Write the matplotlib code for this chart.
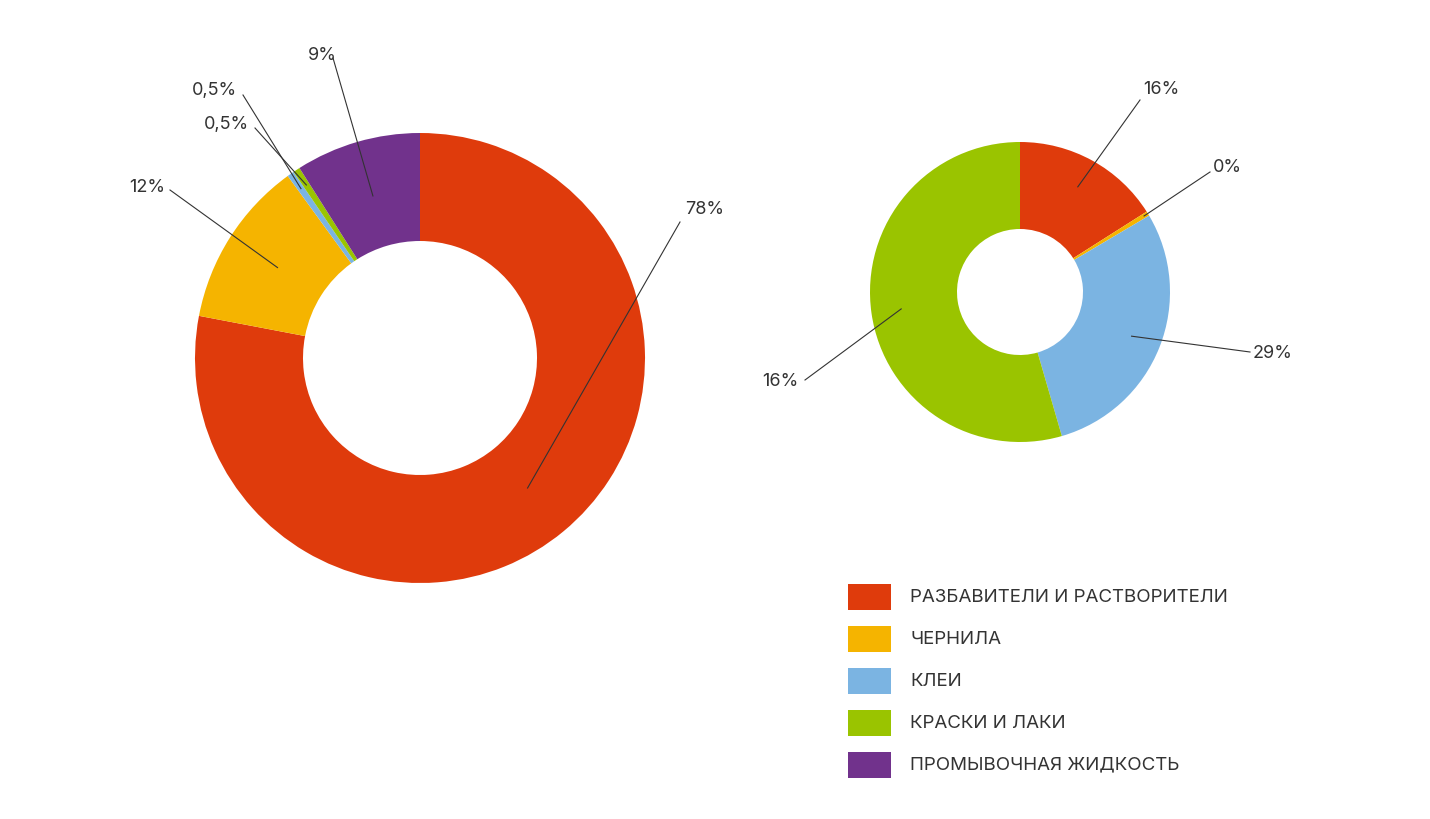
import numpy as np
import matplotlib.pyplot as plt
from matplotlib.patches import Rectangle

categories = ["РАЗБАВИТЕЛИ И РАСТВОРИТЕЛИ", "ЧЕРНИЛА", "КЛЕИ", "КРАСКИ И ЛАКИ", "ПРОМЫВОЧНАЯ ЖИДКОСТЬ"]
colors = ["#DF3B0C", "#F5B400", "#7BB4E2", "#9AC400", "#71328C"]
left_values = [78, 12, 0.5, 0.5, 9]
left_labels = ["78%", "12%", "0,5%", "0,5%", "9%"]
right_values = [16, 0.5, 29, 54.5, 0]
right_labels = ["16%", "0%", "29%", "16%", None]

plt.rcParams['font.family'] = ['Inter', 'DejaVu Sans']
fig = plt.figure(figsize=(14.3, 8.19), dpi=100)
ax = fig.add_axes([0, 0, 1, 1])
ax.set_xlim(0, 1430); ax.set_ylim(0, 819); ax.set_aspect('equal'); ax.axis('off')

def donut(values, labels, center, r, width, txt_pos, rfrac):
    wedges, _ = ax.pie(values, colors=colors, startangle=90, counterclock=False,
                       center=center, radius=r, wedgeprops=dict(width=width, edgecolor='none'))
    ax.set_xlim(0, 1430); ax.set_ylim(0, 819)
    for w, lab, tp, rf in zip(wedges, labels, txt_pos, rfrac):
        if lab is None:
            continue
        a = np.deg2rad((w.theta1 + w.theta2) / 2)
        sx = center[0] + r * rf * np.cos(a); sy = center[1] + r * rf * np.sin(a)
        lx, ly, ha, ex, ey = tp
        ax.plot([sx, ex], [sy, ey], color='#333333', lw=0.8)
        ax.text(lx, ly, lab, ha=ha, va='center', fontsize=13, color='#333333')

H = 819
donut(left_values, left_labels, (420, H - 358), 225, 108,
      [(685, H - 210, 'left', 680, H - 222),
       (165, H - 188, 'right', 170, H - 190),
       (237, H - 91, 'right', 243, H - 95),
       (249, H - 125, 'right', 255, H - 128),
       (308, H - 55, 'left', 333, H - 58)],
      [0.75, 0.75, 0.92, 0.92, 0.75])
donut(right_values, right_labels, (1020, H - 292), 150, 87,
      [(1143, H - 89, 'left', 1140, H - 100),
       (1213, H - 168, 'left', 1210, H - 172),
       (1253, H - 354, 'left', 1250, H - 352),
       (798, H - 382, 'right', 805, H - 380),
       (0, 0, 'left', 0, 0)],
      [0.8, 0.97, 0.8, 0.8, 0.8])

for i, (c, name) in enumerate(zip(categories, colors)):
    y = H - 597 - i * 42
    ax.add_patch(Rectangle((848, y - 13), 43, 26, color=name, lw=0))
    ax.text(910, y, c, va='center', ha='left', fontsize=13.5, color='#333333')

fig.savefig('out.png', dpi=100)
